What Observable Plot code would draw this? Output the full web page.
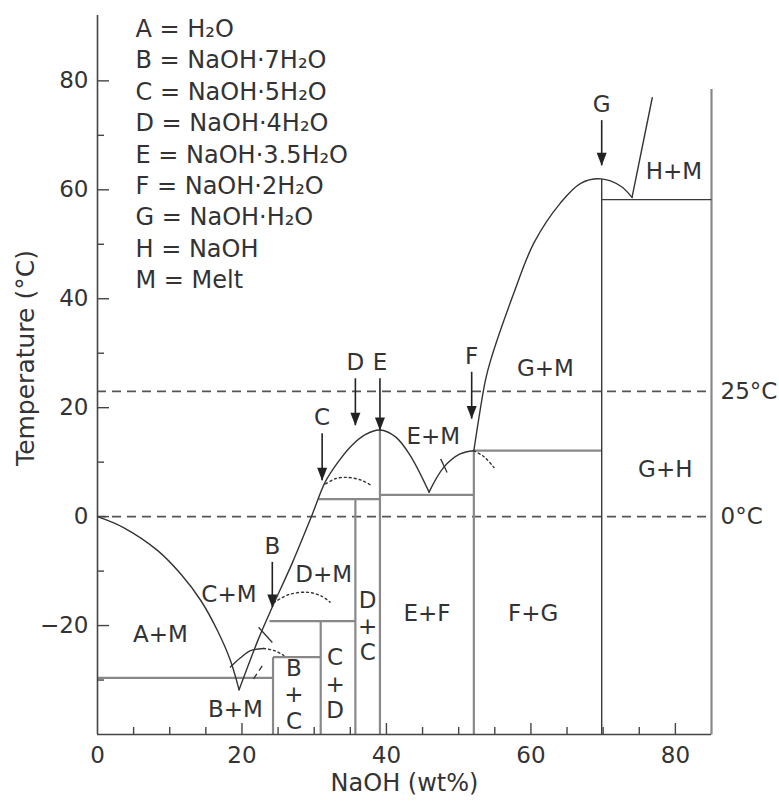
<!DOCTYPE html>
<html><head><meta charset="utf-8">
<script src="https://cdn.jsdelivr.net/npm/d3@7"></script>
<script src="https://cdn.jsdelivr.net/npm/@observablehq/plot@0.6"></script>
<style>body{margin:0;background:#fff;}</style>
</head><body><div id="chart"></div>
<script>
// ---- data (x = NaOH wt%, y = °C) ----
const iceLiquidus   = [[0,0],[3.6,-2.0],[8.3,-6.2],[11.5,-10.5],[14.3,-15.4],[16.6,-20.9],[18.4,-26.4],[19.6,-31.8]];
const hydrateLiquidus = [[19.6,-31.8],[22.3,-22.4],[24.2,-16.6],[27.0,-8.4],[29.7,0.3],[31.5,6.3],[33.3,10.0],[35.0,12.8],[37.0,15.0],[39.1,15.9],[41.3,14.6],[43.3,11.2],[45.9,4.5]];
const fLiquidus     = [[45.9,4.5],[47.9,9.0],[50.2,11.5],[52.1,12.1]];
const gLiquidus     = [[52.1,12.1],[53.7,25.0],[54.4,28.6],[57.6,40.9],[60.4,50.2],[64.1,57.6],[66.9,61.2],[69.7,62.0],[72.4,60.7],[74.0,58.6]];
const hLiquidus     = [[74.0,58.6],[76.8,76.9]];
const vArcSolid     = [[18.4,-27.6],[19.8,-25.9],[21.2,-24.6],[23.0,-24.2]];
const vArcDotted    = [[23.0,-24.2],[24.5,-24.6],[25.8,-25.5]];
const bMetastable   = [[24.4,-15.8],[26.5,-14.3],[29.2,-13.9],[31.0,-14.6],[32.2,-15.7]];
const cMetastable   = [[31.6,6.0],[33.0,7.0],[34.6,7.2],[36.5,6.7],[37.8,5.8]];
const fMetastable   = [[52.1,12.1],[53.5,11.0],[54.9,9.0]];
const crossMarks    = [[22.3,-20.3,24.2,-23.1],[47.5,10.6,48.4,8.1]];
const slashMarks    = [[21.6,-29.8,22.8,-27.4]];
// solid phase boundaries [x1,y1,x2,y2]
const greyBoundaries = [
  [0,-29.6,24.3,-29.6],[24.3,-40,24.3,-25.8],[24.3,-25.8,30.9,-25.8],
  [30.9,-40,30.9,-19.2],[23.8,-19.2,35.7,-19.2],[35.7,-40,35.7,3.2],
  [30.6,3.2,39.1,3.2],[39.1,-40,39.1,15.9],[39.1,4.0,52.1,4.0],
  [52.1,-40,52.1,12.1],[52.1,12.1,69.8,12.1],[85,-40,85,78.5]
];
const darkBoundaries = [[69.8,-40,69.8,62.0],[69.8,58.2,85,58.2]];
const referenceTemps = [0, 23];
const referenceLabels = ["0°C", "25°C"];
// arrows: compound label, x, shaft top, tip
const arrowLabels = ["B","C","D","E","F","G"];
const arrowX      = [24.2,31.1,35.7,39.1,51.8,69.8];
const arrowTop    = [-8.4,15.2,25.3,25.3,26.5,72.7];
const arrowTip    = [-16.7,6.6,16.7,15.8,17.9,64.4];
// region labels
const regionText = ["A+M","C+M","D+M","B+M","E+M","E+F","F+G","G+M","G+H","H+M","B\n+\nC","C\n+\nD","D\n+\nC"];
const regionX    = [8.7,18.2,31.3,19.1,46.5,45.6,60.3,62.0,78.6,79.8,27.2,32.9,37.4];
const regionY    = [-21.5,-14.2,-10.5,-35.3,14.9,-17.6,-17.6,27.3,8.8,63.5,-32.5,-30.6,-20.0];
const legendLines = ["A = H₂O","B = NaOH·7H₂O","C = NaOH·5H₂O","D = NaOH·4H₂O","E = NaOH·3.5H₂O","F = NaOH·2H₂O","G = NaOH·H₂O","H = NaOH","M = Melt"];
const xMinorTicks = [5,10,15,25,30,35,45,50,55,65,70,75];
const xMajorTicks = [20,40,60,80];
const xTickLabels = [0,20,40,60,80];
const yMinorTicks = [-30,-10,10,30,50,70];
const yMajorTicks = [-20,0,20,40,60,80];
const xDomain = [0,85], yDomain = [-40,92];

// ---- build tables ----
const pts = (arr, name) => arr.map(([x,y]) => ({x, y, name}));
const solidCurves = [...pts(iceLiquidus,"ice"),...pts(hydrateLiquidus,"hyd"),...pts(fLiquidus,"f"),...pts(gLiquidus,"g"),...pts(hLiquidus,"h"),...pts(vArcSolid,"v")];
const dottedCurves = [...pts(vArcDotted,"vd"),...pts(bMetastable,"b"),...pts(cMetastable,"c"),...pts(fMetastable,"f")];
const seg = a => a.map(([x1,y1,x2,y2]) => ({x1,y1,x2,y2}));
const arrows = arrowLabels.map((label,i) => ({label, x: arrowX[i], top: arrowTop[i], tip: arrowTip[i]}));
const regions = regionText.map((t,i) => ({t, x: regionX[i], y: regionY[i]}));
const refs = referenceTemps.map((y,i) => ({y, label: referenceLabels[i]}));

const arrowHead = {draw(ctx){ ctx.moveTo(0,0); ctx.lineTo(-5,-13); ctx.lineTo(5,-13); ctx.closePath(); }};
const ink = "#333";
const font = "'DejaVu Sans', Verdana, sans-serif";

const chart = Plot.plot({
  width: 779, height: 801,
  marginLeft: 97, marginRight: 68, marginTop: 15, marginBottom: 67,
  x: {domain: xDomain},
  y: {domain: yDomain},
  style: {fontFamily: font, fontSize: "22px", color: ink, background: "#fff"},
  marks: [
    // reference dashed lines
    Plot.ruleY(refs, {y: "y", x1: xDomain[0], x2: 85, stroke: "#555", strokeWidth: 1.8, strokeDasharray: "9,6"}),
    Plot.text(refs, {y: "y", x: 85, dx: 9, text: "label", textAnchor: "start", fontSize: 23, fill: ink}),
    // phase boundaries
    Plot.link(seg(greyBoundaries), {x1:"x1",y1:"y1",x2:"x2",y2:"y2", stroke: "#888", strokeWidth: 2.2}),
    Plot.link(seg(darkBoundaries), {x1:"x1",y1:"y1",x2:"x2",y2:"y2", stroke: "#3a3a3a", strokeWidth: 1.4}),
    // liquidus curves
    Plot.line(solidCurves, {x:"x", y:"y", z:"name", curve: "catmull-rom", stroke: ink, strokeWidth: 1.4}),
    Plot.line(dottedCurves, {x:"x", y:"y", z:"name", curve: "catmull-rom", stroke: ink, strokeWidth: 1.4, strokeDasharray: "2,3"}),
    Plot.link(seg(crossMarks), {x1:"x1",y1:"y1",x2:"x2",y2:"y2", stroke: ink, strokeWidth: 1.3}),
    Plot.link(seg(slashMarks), {x1:"x1",y1:"y1",x2:"x2",y2:"y2", stroke: ink, strokeWidth: 1.3, strokeDasharray: "6,4"}),
    // arrows
    Plot.ruleX(arrows, {x: "x", y1: "top", y2: "tip", stroke: "#222", strokeWidth: 1.6}),
    Plot.dot(arrows, {x: "x", y: "tip", symbol: arrowHead, fill: "#222", stroke: "none", r: 5}),
    Plot.text(arrows, {x: "x", y: "top", text: "label", dy: -16, fontSize: 23, fill: ink}),
    // region labels
    Plot.text(regions, {x: "x", y: "y", text: "t", fontSize: 23, lineHeight: 1.15, fill: ink}),
    // legend block
    Plot.text([legendLines.join("\n")], {frameAnchor: "top-left", dx: 38, dy: -1, lineAnchor: "top", textAnchor: "start", lineHeight: 1.31, fontSize: 24, fill: ink}),
    // axes
    Plot.ruleX([xDomain[0]], {y1: yDomain[0], y2: yDomain[1], stroke: "#444", strokeWidth: 1.6}),
    Plot.ruleY([yDomain[0]], {x1: xDomain[0], x2: 85, stroke: "#444", strokeWidth: 1.6}),
    Plot.axisX({ticks: xMinorTicks, tickSize: -7, fill: "none", label: null, stroke: "#444", strokeWidth: 1.4}),
    Plot.axisX({ticks: xMajorTicks, tickSize: -11, fill: "none", label: null, stroke: "#444", strokeWidth: 1.4}),
    Plot.axisX({ticks: xTickLabels, tickSize: 0, tickPadding: 12, label: null, fontSize: 23, fill: ink}),
    Plot.axisY({ticks: yMinorTicks, tickSize: -7, fill: "none", label: null, stroke: "#444", strokeWidth: 1.4}),
    Plot.axisY({ticks: yMajorTicks, tickSize: -12, fill: "none", label: null, stroke: "#444", strokeWidth: 1.4}),
    Plot.axisY({ticks: yMajorTicks, tickSize: 0, tickPadding: 9, label: null, fontSize: 23, fill: ink}),
    Plot.text(["NaOH (wt%)"], {frameAnchor: "bottom", dy: 56, fontSize: 24, fill: ink}),
    Plot.text(["Temperature (°C)"], {frameAnchor: "left", textAnchor: "middle", dx: -72, dy: -17, rotate: -90, fontSize: 25, fill: ink})
  ]
});
document.getElementById("chart").appendChild(chart);
</script>
</body></html>
